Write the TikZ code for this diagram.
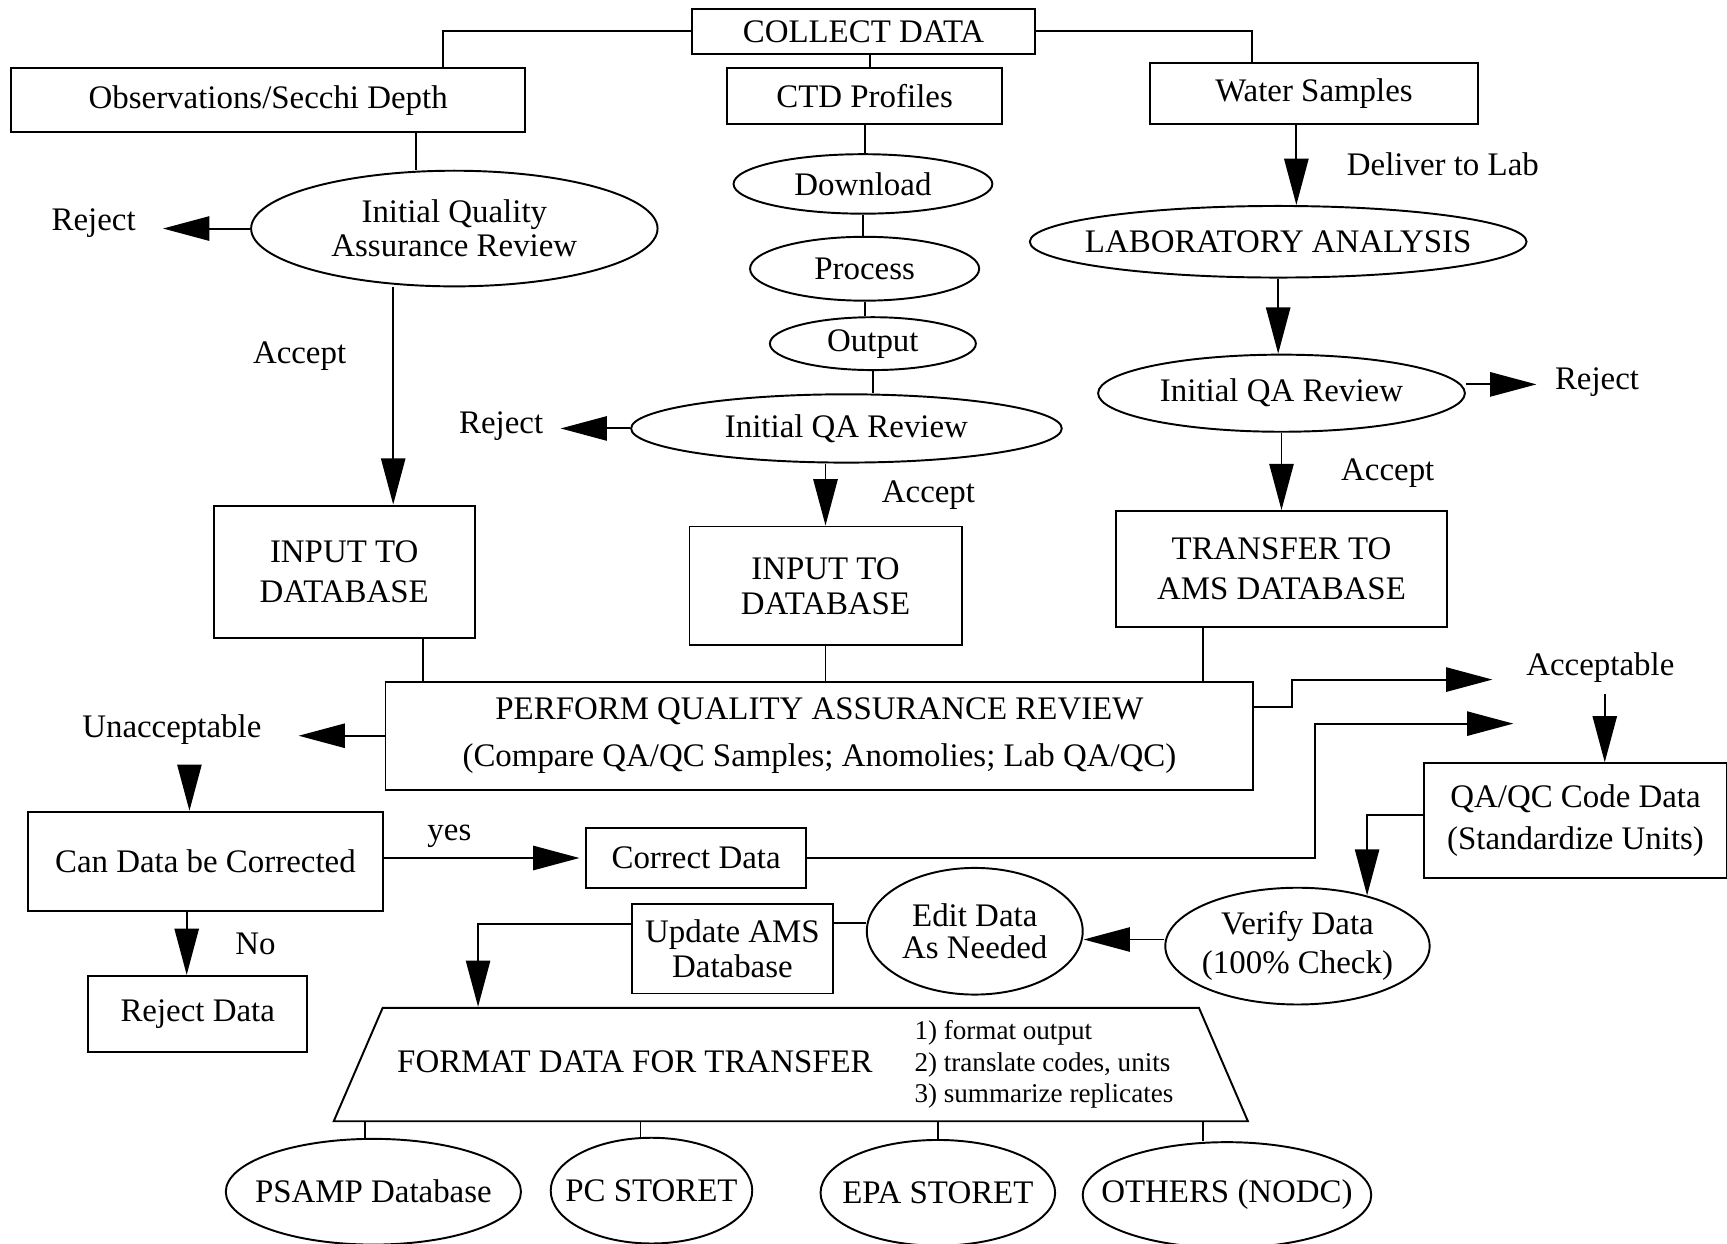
\documentclass[tikz,border=0pt]{standalone}
\usepackage{fontspec}
\setmainfont{Liberation Serif}
\usetikzlibrary{shapes.geometric,arrows.meta}

\begin{document}
\begin{tikzpicture}[
        font=\fontsize{8.5}{10}\selectfont,
        >={Triangle[length=4.2mm,width=2.2mm]},
        line width=0.5pt,
        box/.style={rectangle, draw, align=center, inner sep=0pt},
        oval/.style={ellipse, draw, align=center, inner xsep=-4mm, inner ysep=-2mm},
        lbl/.style={inner sep=0pt}
    ]
        \useasboundingbox (0,0) rectangle (15.68,-11.29);

        \node[box, minimum width=3.12cm, minimum height=0.41cm] (collect) at (7.84,-0.285) {COLLECT DATA};
        \node[box, minimum width=4.67cm, minimum height=0.58cm] (obs) at (2.435,-0.91) {Observations/Secchi Depth};
        \node[box, minimum width=2.50cm, minimum height=0.51cm] (ctd) at (7.85,-0.875) {CTD Profiles};
        \node[box, minimum width=2.98cm, minimum height=0.56cm] (water) at (11.93,-0.85) {Water Samples};

        \node[oval, minimum width=3.69cm, minimum height=1.05cm] (iqar) at (4.125,-2.075) {Initial Quality\\[-1.2pt]Assurance Review};
        \node[oval, minimum width=2.35cm, minimum height=0.54cm] (download) at (7.835,-1.67) {Download};
        \node[oval, minimum width=2.08cm, minimum height=0.58cm] (process) at (7.85,-2.44) {Process};
        \node[oval, minimum width=1.87cm, minimum height=0.48cm] (output) at (7.925,-3.12) {Output};
        \node[oval, minimum width=3.91cm, minimum height=0.62cm] (iqamid) at (7.685,-3.89) {Initial QA Review};
        \node[oval, minimum width=4.51cm, minimum height=0.65cm] (lab) at (11.605,-2.195) {LABORATORY ANALYSIS};
        \node[oval, minimum width=3.33cm, minimum height=0.70cm] (iqaright) at (11.635,-3.57) {Initial QA Review};

        \node[box, minimum width=2.37cm, minimum height=1.20cm] (inleft) at (3.125,-5.19) {INPUT TO\\[0.5pt]DATABASE};
        \node[box, minimum width=2.47cm, minimum height=1.08cm] (inmid) at (7.495,-5.32) {INPUT TO\\[-1pt]DATABASE};
        \node[box, minimum width=3.01cm, minimum height=1.05cm] (transfer) at (11.635,-5.165) {TRANSFER TO\\[0.5pt]AMS DATABASE};
        \node[box, minimum width=7.88cm, minimum height=0.98cm] (pqar) at (7.44,-6.68) {PERFORM QUALITY ASSURANCE REVIEW\\[2.2pt](Compare QA/QC Samples; Anomolies; Lab QA/QC)};

        \node[box, minimum width=3.23cm, minimum height=0.90cm] (canfix) at (1.865,-7.82) {Can Data be Corrected};
        \node[box, minimum width=2.00cm, minimum height=0.54cm] (correct) at (6.32,-7.79) {Correct Data};
        \node[box, minimum width=1.99cm, minimum height=0.69cm] (rejdata) at (1.795,-9.205) {Reject Data};
        \node[box, minimum width=2.75cm, minimum height=1.04cm] (qaqc) at (14.305,-7.45) {QA/QC Code Data\\[1pt](Standardize Units)};
        \node[oval, minimum width=2.40cm, minimum height=1.06cm] (verify) at (11.78,-8.59) {Verify Data\\(100\% Check)};
        \node[oval, minimum width=1.96cm, minimum height=1.15cm] (edit) at (8.85,-8.455) {Edit Data\\[-1.5pt]As Needed};
        \node[box, minimum width=1.82cm, minimum height=0.81cm] (update) at (6.65,-8.615) {Update AMS\\[-1pt]Database};

        \node[trapezium, draw, trapezium stretches body, trapezium left angle=61, trapezium right angle=61,
            minimum width=8.30cm, minimum height=1.03cm, inner sep=0pt] (format) at (7.18,-9.665)
            {FORMAT DATA FOR TRANSFER\hspace{0.38cm}\parbox[c]{2.45cm}{\fontsize{7}{8.2}\selectfont 1) format output\\2) translate codes, units\\3) summarize replicates}};

        \node[oval, minimum width=2.68cm, minimum height=0.96cm] (psamp) at (3.39,-10.82) {PSAMP Database};
        \node[oval, minimum width=1.83cm, minimum height=0.96cm] (pcstoret) at (5.915,-10.81) {PC STORET};
        \node[oval, minimum width=2.13cm, minimum height=0.96cm] (epastoret) at (8.515,-10.83) {EPA STORET};
        \node[oval, minimum width=2.62cm, minimum height=0.96cm] (others) at (11.14,-10.85) {OTHERS (NODC)};

        \node[lbl] (rejL) at (0.85,-2.03) {Reject};
        \node[lbl] (acceptL) at (2.72,-3.23) {Accept};
        \node[lbl] (rejM) at (4.55,-3.87) {Reject};
        \node[lbl] (acceptM) at (8.43,-4.50) {Accept};
        \node[lbl] (deliver) at (13.10,-1.49) {Deliver to Lab};
        \node[lbl] (rejR) at (14.50,-3.47) {Reject};
        \node[lbl] (acceptR) at (12.60,-4.30) {Accept};
        \node[lbl] (unacc) at (1.56,-6.62) {Unacceptable};
        \node[lbl] (acc) at (14.53,-6.06) {Acceptable};
        \node[lbl] (yes) at (4.08,-7.59) {yes};
        \node[lbl] (no) at (2.32,-8.57) {No};
        \coordinate (accin1) at (13.55,-6.17);
        \coordinate (accin2) at (13.74,-6.57);

        \draw (collect.west) -| ([xshift=15.85mm]obs.north);
        \draw (collect.east) -| ([xshift=-5.6mm]water.north);
        \draw ([xshift=0.6mm]collect.south) -- ([xshift=0.6mm]collect.south |- ctd.north);
        \draw ([xshift=-3.45mm]iqar.north) -- ([xshift=-3.45mm]iqar.north |- obs.south);
        \draw (ctd.south) -- (ctd.south |- download.north);
        \draw (download.south) -- (download.south |- process.north);
        \draw (process.south) -- (process.south |- output.north);
        \draw (output.south) -- (output.south |- iqamid.north);

        \draw[->, shorten >=2.4mm] (iqar.west) -- (iqar.west -| rejL.east);
        \draw[->] ([xshift=-5.55mm]iqar.south) -- ([xshift=-5.55mm]iqar.south |- inleft.north);
        \draw[->, shorten >=1.5mm] (iqamid.west) -- (iqamid.west -| rejM.east);
        \draw[->] (inmid.north |- iqamid.south) -- (inmid.north);
        \draw[->] ([xshift=-1.6mm]water.south) -- ([xshift=-1.6mm]water.south |- lab.north);
        \draw[->] (lab.south) -- (lab.south |- iqaright.north);
        \draw[->, shorten >=1.6mm] ([yshift=0.8mm]iqaright.east) -- ([yshift=0.8mm]iqaright.east -| rejR.west);
        \draw[->] (iqaright.south) -- (iqaright.south |- transfer.north);

        \draw ([xshift=7.15mm]inleft.south) -- ([xshift=7.15mm]inleft.south |- pqar.north);
        \draw (inmid.south) -- (inmid.south |- pqar.north);
        \draw ([xshift=-7.15mm]transfer.south) -- ([xshift=-7.15mm]transfer.south |- pqar.north);
        \draw[->, shorten >=3.3mm] (pqar.west) -- (pqar.west -| unacc.east);
        \draw[->] ([yshift=2.6mm]pqar.east) -- ++(0.34,0) |- (accin1);
        \draw[->, shorten <=2mm] ([xshift=1.6mm]unacc.south) -- ([xshift=1.6mm]unacc.south |- canfix.north);
        \draw[->, shorten <=1mm] ([xshift=0.4mm]acc.south) -- ([xshift=0.4mm]acc.south |- qaqc.north);
        \draw[->, shorten >=0.5mm] (canfix.east |- correct.west) -- (correct.west);
        \draw[->] ([xshift=-1mm]rejdata.north |- canfix.south) -- ([xshift=-1mm]rejdata.north);
        \draw[->] (correct.east) -- ++(4.61,0) |- (accin2);
        \draw[->] ([yshift=0.5mm]qaqc.west) -| (verify.36);
        \draw[->] ([yshift=0.6mm]verify.west) -- ([yshift=0.6mm]verify.west -| edit.east);
        \draw ([yshift=0.75mm]edit.west) -- ([yshift=0.75mm]edit.west -| update.east);
        \draw[->] ([yshift=2.3mm]update.west) -| ([xshift=-28.4mm]format.north);

        \draw ([xshift=-0.8mm]psamp.north |- format.south) -- ([xshift=-0.8mm]psamp.north);
        \draw ([xshift=-1mm]pcstoret.north |- format.south) -- ([xshift=-1mm]pcstoret.north);
        \draw (epastoret.north |- format.south) -- (epastoret.north);
        \draw ([xshift=-2.2mm]others.north |- format.south) -- ([xshift=-2.2mm]others.north);
    \end{tikzpicture}
\end{document}
